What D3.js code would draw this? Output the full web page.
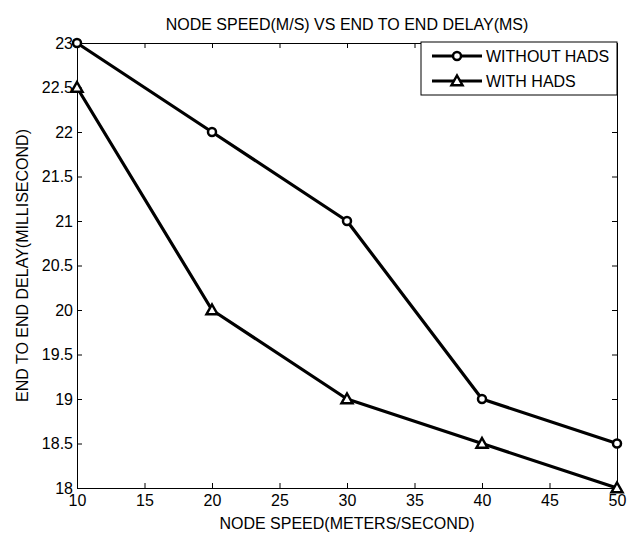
<!DOCTYPE html>
<html>
<head>
<meta charset="utf-8">
<script src="https://cdn.jsdelivr.net/npm/d3@7/dist/d3.min.js"></script>
<style>
  html, body { margin: 0; padding: 0; background: #fff; }
  svg text { font-family: "Liberation Sans", Arial, sans-serif; fill: #000; }
</style>
</head>
<body>
<svg id="chart" width="635" height="537"></svg>
<script>
// Node speed (m/s) against end-to-end delay (ms)
const speeds = [10, 20, 30, 40, 50];
const delayWithoutHads = [23, 22, 21, 19, 18.5];
const delayWithHads = [22.5, 20, 19, 18.5, 18];
const xTicks = [10, 15, 20, 25, 30, 35, 40, 45, 50];
const yTicks = [18, 18.5, 19, 19.5, 20, 20.5, 21, 21.5, 22, 22.5, 23];
const seriesNames = ["WITHOUT HADS", "WITH HADS"];
const markerTypes = ["circle", "triangle"];

const svg = d3.select("#chart");
const m = { left: 77, right: 617, top: 43, bottom: 488 };
const fontSize = 16;

const x = d3.scaleLinear().domain([10, 50]).range([m.left, m.right]);
const y = d3.scaleLinear().domain([18, 23]).range([m.bottom, m.top]);

// Title
svg.append("text")
  .attr("x", (m.left + m.right) / 2).attr("y", 30)
  .attr("text-anchor", "middle").attr("font-size", fontSize)
  .text("NODE SPEED(M/S) VS END TO END DELAY(MS)");

// Axes with inward ticks on every side of the box
const tickLen = 5;
svg.append("g").attr("transform", `translate(0,${m.bottom})`)
  .call(d3.axisBottom(x).tickValues(xTicks).tickSizeInner(-tickLen).tickSizeOuter(0).tickPadding(7).tickFormat(d3.format("d")));
svg.append("g").attr("transform", `translate(0,${m.top})`)
  .call(d3.axisTop(x).tickValues(xTicks).tickSizeInner(-tickLen).tickSizeOuter(0).tickFormat(""));
svg.append("g").attr("transform", `translate(${m.left},0)`)
  .call(d3.axisLeft(y).tickValues(yTicks).tickSizeInner(-tickLen).tickSizeOuter(0).tickPadding(4).tickFormat(d => String(d)));
svg.append("g").attr("transform", `translate(${m.right},0)`)
  .call(d3.axisRight(y).tickValues(yTicks).tickSizeInner(-tickLen).tickSizeOuter(0).tickFormat(""));

svg.selectAll(".domain").attr("stroke", "#000").attr("stroke-width", 1);
svg.selectAll(".tick line").attr("stroke", "#000");
svg.selectAll(".tick text").attr("font-size", fontSize)
  .attr("font-family", "'Liberation Sans', Arial, sans-serif");

// Axis titles
svg.append("text")
  .attr("x", (m.left + m.right) / 2).attr("y", 529)
  .attr("text-anchor", "middle").attr("font-size", fontSize)
  .text("NODE SPEED(METERS/SECOND)");
svg.append("text")
  .attr("transform", `translate(28,${(m.top + m.bottom) / 2}) rotate(-90)`)
  .attr("text-anchor", "middle").attr("font-size", fontSize)
  .text("END TO END DELAY(MILLISECOND)");

// Marker drawing helper
function drawMarker(g, type, cx, cy) {
  if (type === "circle") {
    g.append("circle").attr("cx", cx).attr("cy", cy).attr("r", 4)
      .attr("fill", "#fff").attr("stroke", "#000").attr("stroke-width", 2.5);
  } else {
    const s = 5.5;
    g.append("path")
      .attr("d", `M${cx},${cy - s} L${cx + s},${cy + s * 0.75} L${cx - s},${cy + s * 0.75} Z`)
      .attr("fill", "#fff").attr("stroke", "#000").attr("stroke-width", 2.5)
      .attr("stroke-linejoin", "miter");
  }
}

const line = d3.line().x(d => x(d[0])).y(d => y(d[1]));
const series = [delayWithoutHads, delayWithHads];
series.forEach((vals, i) => {
  const pts = speeds.map((s, j) => [s, vals[j]]);
  const g = svg.append("g");
  g.append("path").datum(pts).attr("d", line)
    .attr("fill", "none").attr("stroke", "#000").attr("stroke-width", 3.2)
    .attr("stroke-linejoin", "round");
  pts.forEach(p => drawMarker(g, markerTypes[i], x(p[0]), y(p[1])));
});

// Legend
const lg = svg.append("g");
const lx = 421, ly = m.top - 1, lw = m.right - 421, lh = 53;
lg.append("rect").attr("x", lx).attr("y", ly).attr("width", lw).attr("height", lh)
  .attr("fill", "#fff").attr("stroke", "#000").attr("stroke-width", 1);
seriesNames.forEach((name, i) => {
  const yy = ly + 14 + i * 25;
  lg.append("line").attr("x1", lx + 11).attr("x2", lx + 61).attr("y1", yy).attr("y2", yy)
    .attr("stroke", "#000").attr("stroke-width", 3.2);
  drawMarker(lg, markerTypes[i], lx + 36, yy);
  lg.append("text").attr("x", lx + 65).attr("y", yy + 6).attr("font-size", fontSize).text(name);
});
</script>
</body>
</html>
